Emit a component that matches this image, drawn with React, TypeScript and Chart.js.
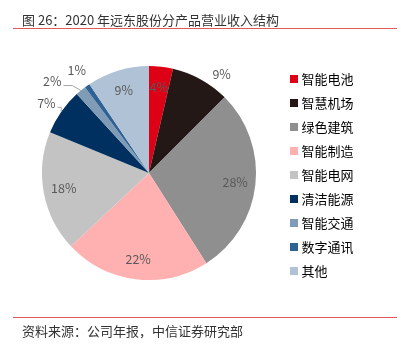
import React, { useEffect, useRef } from "react";
import { Chart, registerables } from "chart.js";

Chart.register(...registerables);

const titleText = "图 26：2020 年远东股份分产品营业收入结构";
const sourceText = "资料来源：公司年报，中信证券研究部";

const categories = ["智能电池", "智慧机场", "绿色建筑", "智能制造", "智能电网", "清洁能源", "智能交通", "数字通讯", "其他"];
const shares = [3.6, 8.9, 28.5, 22.0, 18.2, 7.0, 1.6, 0.8, 9.4];
const pctLabels = ["4%", "9%", "28%", "22%", "18%", "7%", "2%", "1%", "9%"];
const sliceColors = ["#DE0014", "#231815", "#8F8F8F", "#FFB0B0", "#C3C3C3", "#00305F", "#7F9BB5", "#2E6194", "#AFC2D6"];

// label placement style: "in" inside, "out" outside, "lead" outside with leader line
const labelModes = ["in", "out", "in", "in", "in", "lead", "lead", "out", "in"];
const labelNudges = [[0, 0], [12, 11], [0, 0], [0, 0], [0, 0], [0, 2], [-17, 5], [0, -1], [0, 0]];

const FONT = "'Noto Sans CJK SC', 'Noto Sans', sans-serif";

const pieLabelPlugin = {
  id: "pieLabels",
  afterDatasetsDraw(chart: any) {
    const ctx = chart.ctx;
    const meta = chart.getDatasetMeta(0);
    ctx.save();
    ctx.font = `12.5px ${FONT}`;
    ctx.textAlign = "center";
    ctx.textBaseline = "middle";
    meta.data.forEach((arc: any, i: number) => {
      const p = arc.getProps(["x", "y", "startAngle", "endAngle", "outerRadius"], true);
      const mid = (p.startAngle + p.endAngle) / 2;
      const R = p.outerRadius;
      const mode = labelModes[i];
      const k = mode === "in" ? 0.81 : 1.17;
      const lx = p.x + Math.cos(mid) * R * k + labelNudges[i][0];
      const ly = p.y + Math.sin(mid) * R * k + labelNudges[i][1];
      ctx.fillStyle = "#595959";
      ctx.fillText(pctLabels[i], lx, ly);
      if (mode === "lead") {
        const w = ctx.measureText(pctLabels[i]).width;
        const sx = lx + w / 2 + 2;
        const sy = ly + 4;
        const ex = p.x + Math.cos(mid) * R;
        const ey = p.y + Math.sin(mid) * R;
        const bx = Math.min(sx + 9, ex);
        ctx.strokeStyle = "#A6A6A6";
        ctx.lineWidth = 1;
        ctx.beginPath();
        ctx.moveTo(sx, sy);
        ctx.lineTo(bx, sy);
        ctx.lineTo(ex, ey);
        ctx.stroke();
      }
    });
    ctx.restore();
  },
};

function PieChart() {
  const ref = useRef<HTMLCanvasElement | null>(null);
  useEffect(() => {
    if (!ref.current) return;
    const chart = new Chart(ref.current, {
      type: "pie",
      data: {
        labels: categories,
        datasets: [
          {
            data: shares,
            backgroundColor: sliceColors,
            borderWidth: 0,
          },
        ],
      },
      options: {
        responsive: false,
        animation: false,
        radius: 107,
        layout: { padding: { left: 16, right: 38.5, top: 0, bottom: 0 } },
        plugins: {
          tooltip: { enabled: false },
          title: { display: false },
          legend: {
            position: "right",
            align: "center",
            title: { display: true, text: " ", font: { size: 4, lineHeight: 1 }, padding: 0 },
            labels: {
              usePointStyle: true,
              pointStyle: "rect",
              boxWidth: 2,
              boxHeight: 8,
              padding: 11,
              color: "#000000",
              font: { size: 13, family: FONT },
            },
          },
        },
      },
      plugins: [pieLabelPlugin],
    });
    return () => chart.destroy();
  }, []);
  return (
    <canvas
      ref={ref}
      width={402}
      height={346}
      style={{ position: "absolute", left: 0, top: 0, width: 402, height: 346 }}
    />
  );
}

export default function App() {
  return (
    <div style={{ position: "absolute", left: 0, top: 0, width: 402, height: 352, background: "#fff", fontFamily: FONT }}>
      <PieChart />
      <div style={{ position: "absolute", left: 22, top: 11, fontSize: 13, lineHeight: "18px", color: "#333", whiteSpace: "nowrap" }}>
        {titleText}
      </div>
      <div style={{ position: "absolute", left: 13, top: 28, width: 384, height: 1, background: "#E05A5A" }} />
      <div style={{ position: "absolute", left: 13, top: 317, width: 384, height: 1, background: "#E05A5A" }} />
      <div style={{ position: "absolute", left: 22, top: 322, fontSize: 13, lineHeight: "18px", color: "#333", whiteSpace: "nowrap" }}>
        {sourceText}
      </div>
    </div>
  );
}
